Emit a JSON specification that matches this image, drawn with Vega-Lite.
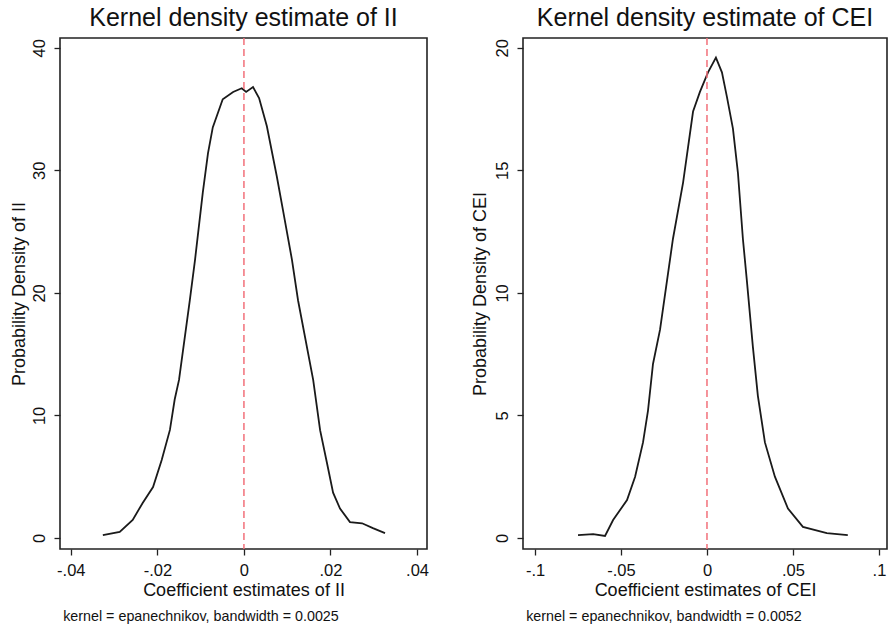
{
  "$schema": "https://vega.github.io/schema/vega-lite/v6.json",
  "background": "white",
  "padding": {"left": 9, "top": 5, "right": 0, "bottom": 0},
  "config": {
    "font": "Liberation Sans",
    "view": {"stroke": "#222222", "strokeWidth": 1.6},
    "axis": {
      "domain": false,
      "grid": false,
      "ticks": true,
      "tickSize": 6,
      "tickColor": "#222222",
      "tickWidth": 1.3,
      "labelFont": "Liberation Sans",
      "labelFontSize": 16.5,
      "labelColor": "#111111",
      "titleFont": "Liberation Sans",
      "titleFontSize": 18,
      "titleFontWeight": "normal",
      "titleColor": "#111111"
    },
    "title": {"font": "Liberation Sans", "fontWeight": "normal", "color": "#111111"}
  },
  "datasets": {
    "ii": [
      {"x": -0.0326, "y": 0.24}, {"x": -0.0287, "y": 0.49}, {"x": -0.0257, "y": 1.47},
      {"x": -0.0234, "y": 2.86}, {"x": -0.0210, "y": 4.16}, {"x": -0.0190, "y": 6.37},
      {"x": -0.0171, "y": 8.82}, {"x": -0.0160, "y": 11.3}, {"x": -0.0150, "y": 12.9},
      {"x": -0.0125, "y": 19.4}, {"x": -0.0113, "y": 22.7}, {"x": -0.0095, "y": 28.2},
      {"x": -0.0083, "y": 31.4}, {"x": -0.0072, "y": 33.5}, {"x": -0.0049, "y": 35.8},
      {"x": -0.0025, "y": 36.4}, {"x": -0.0005, "y": 36.7}, {"x": 0.0005, "y": 36.4},
      {"x": 0.0021, "y": 36.8}, {"x": 0.0035, "y": 35.9}, {"x": 0.0053, "y": 33.6},
      {"x": 0.0076, "y": 29.5}, {"x": 0.0090, "y": 26.8}, {"x": 0.0111, "y": 22.7},
      {"x": 0.0125, "y": 19.4}, {"x": 0.0160, "y": 12.9}, {"x": 0.0176, "y": 8.8},
      {"x": 0.0192, "y": 6.1}, {"x": 0.0206, "y": 3.7}, {"x": 0.0222, "y": 2.4},
      {"x": 0.0245, "y": 1.3}, {"x": 0.0273, "y": 1.2}, {"x": 0.0298, "y": 0.8},
      {"x": 0.0326, "y": 0.4}
    ],
    "cei": [
      {"x": -0.0750, "y": 0.12}, {"x": -0.0662, "y": 0.16}, {"x": -0.0593, "y": 0.08},
      {"x": -0.0546, "y": 0.73}, {"x": -0.0465, "y": 1.55}, {"x": -0.0418, "y": 2.5},
      {"x": -0.0372, "y": 3.9}, {"x": -0.0343, "y": 5.2}, {"x": -0.0314, "y": 7.1},
      {"x": -0.0273, "y": 8.5}, {"x": -0.0198, "y": 12.2}, {"x": -0.0139, "y": 14.5},
      {"x": -0.0081, "y": 17.4}, {"x": -0.0041, "y": 18.2}, {"x": 0.0006, "y": 19.0},
      {"x": 0.0052, "y": 19.6}, {"x": 0.0087, "y": 19.0}, {"x": 0.0116, "y": 18.0},
      {"x": 0.0151, "y": 16.7}, {"x": 0.0180, "y": 14.9}, {"x": 0.0209, "y": 12.2},
      {"x": 0.0232, "y": 10.5}, {"x": 0.0267, "y": 7.8}, {"x": 0.0296, "y": 5.8},
      {"x": 0.0337, "y": 3.9}, {"x": 0.0395, "y": 2.5}, {"x": 0.0471, "y": 1.2},
      {"x": 0.0558, "y": 0.45}, {"x": 0.0697, "y": 0.2}, {"x": 0.0819, "y": 0.12}
    ],
    "ref": [{"ref": 0}]
  },
  "hconcat": [
    {
      "title": {"text": "kernel = epanechnikov, bandwidth = 0.0025", "orient": "bottom", "anchor": "start", "fontSize": 14.3, "offset": 10, "dx": 54},
      "vconcat": [
        {
          "width": 367,
          "height": 511,
          "title": {"text": "Kernel density estimate of II", "fontSize": 25, "anchor": "middle", "frame": "group", "offset": 6},
          "layer": [
            {
              "data": {"name": "ii"},
              "mark": {"type": "line", "color": "#1a1a1a", "strokeWidth": 1.8, "clip": true},
              "encoding": {
                "x": {"field": "x", "type": "quantitative", "scale": {"domain": [-0.0425, 0.0423], "nice": false, "zero": false},
                  "axis": {"title": "Coefficient estimates of II", "values": [-0.04, -0.02, 0, 0.02, 0.04], "labelPadding": 7, "titlePadding": 3,
                    "labelExpr": "(datum.value < 0 ? '-' : '') + replace(format(abs(datum.value), '.2~f'), '0.', '.')"}},
                "y": {"field": "y", "type": "quantitative", "scale": {"domain": [-0.9, 40.8], "nice": false, "zero": false},
                  "axis": {"title": "Probability Density of II", "values": [0, 10, 20, 30, 40], "labelAngle": -90, "labelAlign": "center", "labelBaseline": "bottom", "labelPadding": 7, "titlePadding": 3}}
              }
            },
            {
              "data": {"name": "ref"},
              "mark": {"type": "rule", "color": "#f2707a", "strokeWidth": 1.5, "strokeDash": [7, 4]},
              "encoding": {"x": {"field": "ref", "type": "quantitative"}}
            }
          ]
        }
      ]
    },
    {
      "title": {"text": "kernel = epanechnikov, bandwidth = 0.0052", "orient": "bottom", "anchor": "start", "fontSize": 14.3, "offset": 10, "dx": 56},
      "vconcat": [
        {
          "width": 364,
          "height": 511,
          "title": {"text": "Kernel density estimate of CEI", "fontSize": 25, "anchor": "middle", "frame": "group", "offset": 6},
          "layer": [
            {
              "data": {"name": "cei"},
              "mark": {"type": "line", "color": "#1a1a1a", "strokeWidth": 1.8, "clip": true},
              "encoding": {
                "x": {"field": "x", "type": "quantitative", "scale": {"domain": [-0.107, 0.1047], "nice": false, "zero": false},
                  "axis": {"title": "Coefficient estimates of CEI", "values": [-0.1, -0.05, 0, 0.05, 0.1], "labelPadding": 7, "titlePadding": 3,
                    "labelExpr": "(datum.value < 0 ? '-' : '') + replace(format(abs(datum.value), '.2~f'), '0.', '.')"}},
                "y": {"field": "y", "type": "quantitative", "scale": {"domain": [-0.45, 20.4], "nice": false, "zero": false},
                  "axis": {"title": "Probability Density of CEI", "values": [0, 5, 10, 15, 20], "labelAngle": -90, "labelAlign": "center", "labelBaseline": "bottom", "labelPadding": 7, "titlePadding": 5}}
              }
            },
            {
              "data": {"name": "ref"},
              "mark": {"type": "rule", "color": "#f2707a", "strokeWidth": 1.5, "strokeDash": [7, 4]},
              "encoding": {"x": {"field": "ref", "type": "quantitative"}}
            }
          ]
        }
      ]
    }
  ],
  "spacing": 40
}
